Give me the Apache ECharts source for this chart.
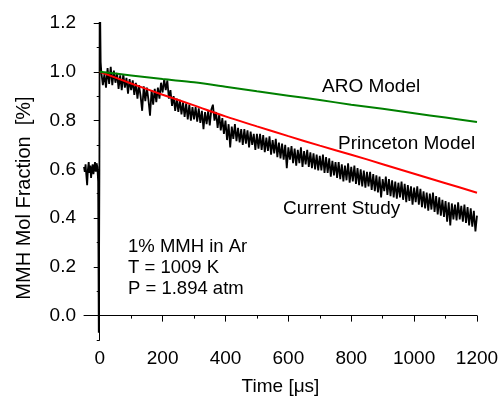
<!DOCTYPE html>
<html>
<head>
<meta charset="utf-8">
<script src="https://cdn.jsdelivr.net/npm/echarts@6/dist/echarts.min.js"></script>
<style>
  html, body { margin: 0; padding: 0; background: #fff; }
  #chart { width: 499px; height: 398px; }
</style>
</head>
<body>
<div id="chart"></div>
<script>
// Measured MMH trace: baseline before the shock (time in µs, mole fraction in %)
const preShockTimes  = [-50, -47.5, -45, -42.5, -40, -37.5, -35, -32.5, -30, -27.5, -25, -22.5, -20, -17.5, -15, -12.5, -10, -7.5];
const preShockValues = [0.61, 0.59, 0.62, 0.575, 0.535, 0.60, 0.63, 0.585, 0.615, 0.565, 0.60, 0.62, 0.58, 0.605, 0.63, 0.59, 0.625, 0.61];

// Schlieren dip and spike as the reflected shock arrives
const shockTimes  = [-5, -3, -1, 0, 1.5, 3];
const shockValues = [0.55, -0.07, 0.60, 1.40, 1.40, 1.04];

// Decay behind the reflected shock, sampled every 5 µs from 5 µs
const decayStart = 5;
const decayStep = 5;
const decayValues = [
  1.00, 0.945, 0.99, 0.935, 1.015, 0.95, 1.02, 0.945, 1.005, 0.955,
  0.995, 0.93, 0.985, 0.925, 0.99, 0.935, 0.975, 0.91, 0.97, 0.925,
  0.965, 0.905, 0.955, 0.89, 0.945, 0.90, 0.84, 0.94, 0.88, 0.935,
  0.885, 0.82, 0.925, 0.865, 0.93, 0.875, 0.935, 0.89, 0.955, 0.915,
  0.97, 0.925, 0.965, 0.89, 0.925, 0.86, 0.90, 0.84, 0.89, 0.835,
  0.885, 0.825, 0.875, 0.815, 0.87, 0.805, 0.865, 0.80, 0.855, 0.805,
  0.855, 0.795, 0.85, 0.79, 0.84, 0.765, 0.835, 0.785, 0.84, 0.78,
  0.845, 0.865, 0.80, 0.835, 0.77, 0.825, 0.76, 0.81, 0.745, 0.80,
  0.72, 0.785, 0.69, 0.775, 0.725, 0.785, 0.715, 0.77, 0.71, 0.765,
  0.70, 0.765, 0.705, 0.76, 0.69, 0.755, 0.70, 0.745, 0.68, 0.745,
  0.685, 0.745, 0.68, 0.74, 0.67, 0.73, 0.675, 0.735, 0.66, 0.72,
  0.665, 0.725, 0.65, 0.71, 0.645, 0.705, 0.64, 0.70, 0.605, 0.69,
  0.64, 0.695, 0.625, 0.685, 0.615, 0.68, 0.625, 0.69, 0.61, 0.675,
  0.62, 0.68, 0.61, 0.67, 0.605, 0.665, 0.60, 0.66, 0.595, 0.655,
  0.595, 0.66, 0.585, 0.65, 0.585, 0.645, 0.57, 0.635, 0.575, 0.63,
  0.565, 0.63, 0.56, 0.62, 0.55, 0.615, 0.555, 0.625, 0.545, 0.61,
  0.55, 0.615, 0.54, 0.605, 0.535, 0.60, 0.53, 0.595, 0.525, 0.59,
  0.53, 0.59, 0.515, 0.58, 0.51, 0.575, 0.505, 0.57, 0.485, 0.56,
  0.51, 0.57, 0.495, 0.56, 0.49, 0.555, 0.485, 0.55, 0.48, 0.545,
  0.485, 0.55, 0.475, 0.54, 0.465, 0.535, 0.47, 0.53, 0.455, 0.525,
  0.465, 0.53, 0.455, 0.52, 0.445, 0.51, 0.44, 0.505, 0.43, 0.50,
  0.435, 0.505, 0.425, 0.49, 0.415, 0.485, 0.41, 0.475, 0.405, 0.47,
  0.385, 0.465, 0.37, 0.46, 0.395, 0.455, 0.39, 0.465, 0.395, 0.45,
  0.385, 0.455, 0.38, 0.445, 0.37, 0.44, 0.365, 0.43, 0.345, 0.41
];

// Model predictions
const modelTimes      = [0, 100, 200, 300, 400, 500, 600, 700, 800, 900, 1000, 1100, 1200];
const princetonValues = [1.0, 0.952, 0.906, 0.862, 0.817, 0.776, 0.736, 0.697, 0.660, 0.621, 0.582, 0.543, 0.504];
const aroValues       = [1.0, 0.985, 0.970, 0.957, 0.939, 0.920, 0.902, 0.884, 0.865, 0.848, 0.830, 0.812, 0.794];

// Axis ticks
const xMajorTicks = [0, 200, 400, 600, 800, 1000, 1200];
const xMinorTicks = [100, 300, 500, 700, 900, 1100];
const yMajorTicks = [0, 0.2, 0.4, 0.6, 0.8, 1.0, 1.2];
const yMinorTicks = [-0.1, 0.1, 0.3, 0.5, 0.7, 0.9, 1.1];

const FONT = '"Liberation Sans", Arial, sans-serif';

const trace = [];
preShockTimes.forEach((t, i) => trace.push([t, preShockValues[i]]));
shockTimes.forEach((t, i) => trace.push([t, shockValues[i]]));
decayValues.forEach((v, i) => trace.push([decayStart + i * decayStep, v]));

const zip = (xs, ys) => xs.map((x, i) => [x, ys[i]]);

const X_MIN = -50, X_MAX = 1200, Y_MIN = -0.1, Y_MAX = 1.2;

const chart = echarts.init(document.getElementById('chart'), null, { renderer: 'canvas' });

chart.setOption({
  animation: false,
  backgroundColor: '#ffffff',
  grid: { left: 84, right: 22, top: 23, bottom: 58, containLabel: false, outerBoundsMode: 'none' },
  xAxis: [
    {
      type: 'value', min: X_MIN, max: X_MAX,
      name: 'Time [\u03bcs]', nameLocation: 'middle', nameGap: 37,
      nameTextStyle: { fontFamily: FONT, fontSize: 19, color: '#000' },
      axisLine: { show: true, lineStyle: { color: '#000', width: 1 } },
      axisTick: { show: true, length: 6, customValues: xMajorTicks, lineStyle: { color: '#000' } },
      axisLabel: {
        customValues: xMajorTicks, fontFamily: FONT, fontSize: 19, color: '#000', margin: 9,
        formatter: v => String(v)
      },
      splitLine: { show: false }
    },
    {
      type: 'value', min: X_MIN, max: X_MAX, position: 'bottom', offset: 0,
      axisLine: { show: false },
      axisTick: { show: true, length: 3, customValues: xMinorTicks, lineStyle: { color: '#000' } },
      axisLabel: { show: false },
      splitLine: { show: false }
    }
  ],
  yAxis: [
    {
      type: 'value', min: Y_MIN, max: Y_MAX,
      axisLine: { show: true, lineStyle: { color: '#000', width: 1 } },
      axisTick: { show: true, length: 6, customValues: yMajorTicks, lineStyle: { color: '#000' } },
      axisLabel: {
        customValues: yMajorTicks, fontFamily: FONT, fontSize: 19, color: '#000', margin: 8,
        formatter: v => v.toFixed(1)
      },
      splitLine: { show: false }
    },
    {
      type: 'value', min: Y_MIN, max: Y_MAX, position: 'left', offset: 0,
      axisLine: { show: false },
      axisTick: { show: true, length: 3, customValues: yMinorTicks, lineStyle: { color: '#000' } },
      axisLabel: { show: false },
      splitLine: { show: false }
    }
  ],
  series: [
    {
      name: 'Current Study', type: 'line', data: trace, symbol: 'none', clip: true,
      lineStyle: { color: '#000000', width: 1.8 }, z: 2
    },
    {
      name: 'Princeton Model', type: 'line', data: zip(modelTimes, princetonValues),
      symbol: 'none', smooth: 0.3, clip: true,
      lineStyle: { color: '#ff0000', width: 2 }, z: 3
    },
    {
      name: 'ARO Model', type: 'line', data: zip(modelTimes, aroValues),
      symbol: 'none', smooth: 0.3, clip: true,
      lineStyle: { color: '#008000', width: 2 }, z: 4
    }
  ],
  graphic: [
    {
      type: 'text', x: 24, y: 198, rotation: Math.PI / 2,
      style: { text: 'MMH Mol Fraction  [%]', font: '20px ' + FONT, fill: '#000', align: 'center', verticalAlign: 'middle' }
    },
    { type: 'text', x: 322, y: 87, style: { text: 'ARO Model', font: '19px ' + FONT, fill: '#000', verticalAlign: 'middle' } },
    { type: 'text', x: 338, y: 144, style: { text: 'Princeton Model', font: '19px ' + FONT, fill: '#000', verticalAlign: 'middle' } },
    { type: 'text', x: 283, y: 209, style: { text: 'Current Study', font: '19px ' + FONT, fill: '#000', verticalAlign: 'middle' } },
    { type: 'text', x: 128, y: 247, style: { text: '1% MMH in Ar', font: '18.5px ' + FONT, fill: '#000', verticalAlign: 'middle' } },
    { type: 'text', x: 128, y: 268, style: { text: 'T = 1009 K', font: '18.5px ' + FONT, fill: '#000', verticalAlign: 'middle' } },
    { type: 'text', x: 128, y: 289, style: { text: 'P = 1.894 atm', font: '18.5px ' + FONT, fill: '#000', verticalAlign: 'middle' } }
  ]
});
</script>
</body>
</html>
